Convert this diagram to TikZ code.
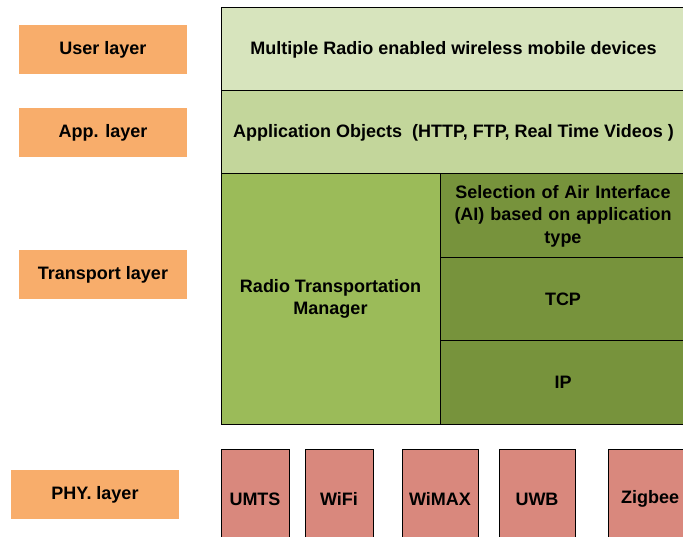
\documentclass[tikz,border=0pt]{standalone}
\usepackage{fontspec}
\setmainfont{Liberation Sans}
\definecolor{orng}{HTML}{F8AD6B}
\definecolor{gA}{HTML}{D7E4BD}
\definecolor{gB}{HTML}{C3D69B}
\definecolor{gC}{HTML}{9BBB59}
\definecolor{gD}{HTML}{77933C}
\definecolor{phyred}{HTML}{D9887D}
\tikzset{
  lbl/.style={fill=orng, draw=none, minimum width=168pt, minimum height=49pt, anchor=north west, inner sep=0pt, outer sep=0pt, font=\fontsize{18}{20}\selectfont\bfseries},
  blk/.style={draw=black, line width=1pt, anchor=north west, inner sep=0pt, outer sep=0pt, align=center, font=\fontsize{18}{22.5}\selectfont\bfseries},
  phy/.style={blk, fill=phyred, minimum height=100pt}
}
\begin{document}
\begin{tikzpicture}[x=1pt,y=-1pt]
\useasboundingbox (0,0) rectangle (683,537);
% left layer labels
\node[lbl] (user) at (19,25) {User layer};
\node[lbl] (app) at (19,108) {App. layer};
\node[lbl] (trans) at (19,250) {Transport layer};
\node[lbl] (phyl) at (11,470) {PHY. layer};
% right stack
\node[blk, fill=gA, minimum width=465pt, minimum height=83pt] (dev) at (221,8) {Multiple Radio enabled wireless mobile devices};
\node[blk, fill=gB, minimum width=465pt, minimum height=83pt] (appobj) at (221,91) {Application Objects~~(HTTP, FTP, Real Time Videos )};
\node[blk, fill=gC, minimum width=219pt, minimum height=250pt] (rtm) at (221,174) {Radio Transportation\\Manager};
\node[blk, fill=gD, minimum width=246pt, minimum height=84pt, text width=240pt] (sel) at (440,174) {Selection of Air Interface\\(AI) based on application\\type};
\node[blk, fill=gD, minimum width=246pt, minimum height=83pt] (tcp) at (440,258) {TCP};
\node[blk, fill=gD, minimum width=246pt, minimum height=83pt] (ip) at (440,341) {IP};
% PHY boxes
\node[phy, minimum width=68pt] (umts) at (221,449) {UMTS};
\node[phy, minimum width=68pt] (wifi) at (305,449) {WiFi};
\node[phy, minimum width=76pt] (wimax) at (402,449) {WiMAX};
\node[phy, minimum width=76pt] (uwb) at (499,449) {UWB};
\node[phy, minimum width=84pt] (zig) at (608,449) {Zigbee};
\end{tikzpicture}
\end{document}
